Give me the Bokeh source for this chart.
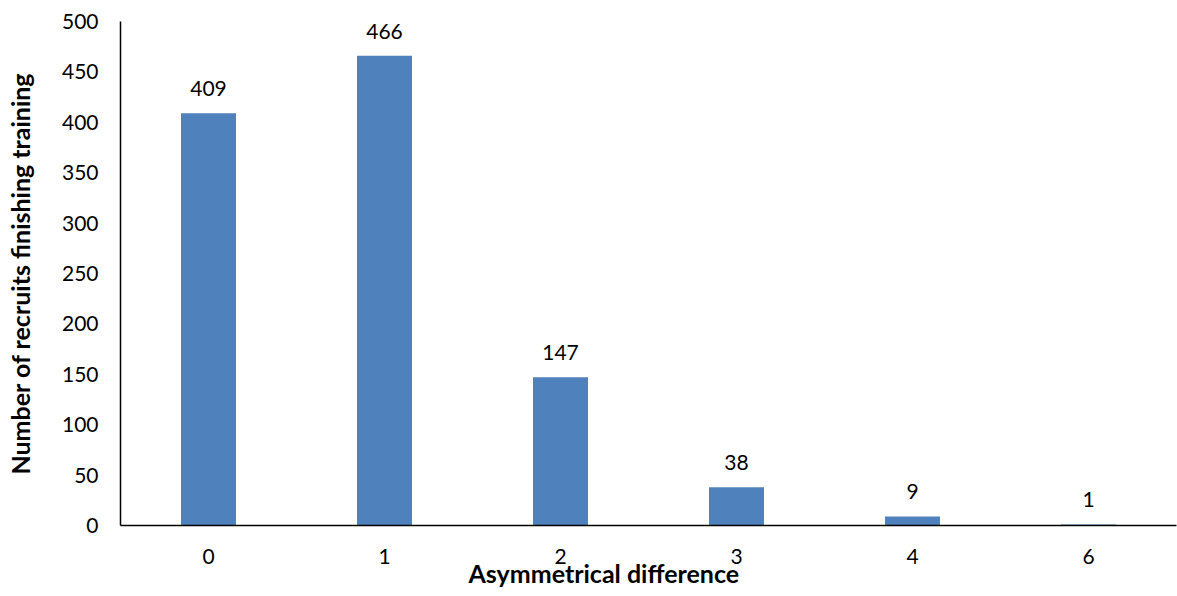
from bokeh.core.properties import value
from bokeh.embed import file_html
from bokeh.models import ColumnDataSource, FactorRange, Range1d, Title
from bokeh.plotting import figure
from bokeh.resources import INLINE

# Asymmetry score categories and recruit counts
categories = ["0", "1", "2", "3", "4", "6"]
counts = [409, 466, 147, 38, 9, 1]
y_ticks = [0, 50, 100, 150, 200, 250, 300, 350, 400, 450, 500]
y_max = 500

FONT = "Lato"
BAR_COLOR = "#4F81BD"

source = ColumnDataSource(data=dict(
    cat=categories,
    count=counts,
    label=[str(c) for c in counts],
))

p = figure(
    width=1177,
    height=596,
    x_range=FactorRange(factors=categories, range_padding=0),
    y_range=Range1d(0, y_max),
    output_backend="svg",
    toolbar_location=None,
    min_border_left=120,
    min_border_right=1,
    min_border_top=21,
    min_border_bottom=71,
)

p.vbar(x="cat", top="count", width=0.3125, source=source,
       fill_color=BAR_COLOR, line_color=None)

p.text(x="cat", y="count", text="label", source=source,
       text_align="center", text_baseline="bottom", y_offset=-17,
       text_font=value(FONT), text_font_size="21px", text_color="#000000")

# Axes: plain black lines, no ticks, no grid
p.xgrid.grid_line_color = None
p.ygrid.grid_line_color = None
p.outline_line_color = None

p.yaxis.ticker = y_ticks
for ax in (p.xaxis[0], p.yaxis[0]):
    ax.axis_line_color = "#000000"
    ax.axis_line_width = 1.5
    ax.major_tick_line_color = None
    ax.minor_tick_line_color = None
    ax.major_tick_out = 0
    ax.major_tick_in = 0
    ax.major_label_text_font = FONT
    ax.major_label_text_font_size = "21px"
    ax.major_label_text_color = "#000000"

p.yaxis.major_label_standoff = 22
p.xaxis.major_label_standoff = 23

title_style = dict(text_font=FONT, text_font_size="25px",
                   text_font_style="bold", text_color="#000000")

# Vertical title on the value axis
p.yaxis.axis_label = "Number of recruits finishing training"
p.yaxis.axis_label_standoff = 24
p.yaxis.axis_label_text_font = FONT
p.yaxis.axis_label_text_font_size = "25px"
p.yaxis.axis_label_text_font_style = "bold"
p.yaxis.axis_label_text_color = "#000000"

# Category axis title, offset along the bottom edge
p.add_layout(Title(text="Asymmetrical difference", align="left",
                   offset=348, vertical_align="top", standoff=-18,
                   **title_style), "below")

p.background_fill_color = "#ffffff"
p.border_fill_color = "#ffffff"

open("out.html", "w").write(file_html(p, INLINE))
